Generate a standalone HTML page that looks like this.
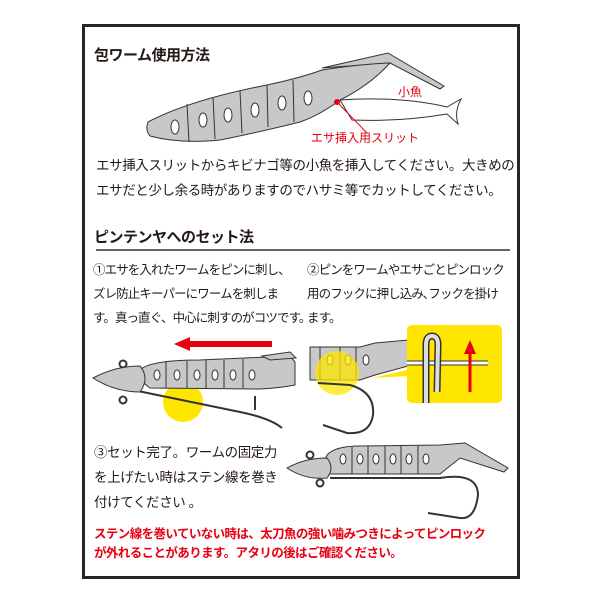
<!DOCTYPE html>
<html><head><meta charset="utf-8"><style>
body{margin:0;background:#fff;width:600px;height:600px;position:relative;overflow:hidden;font-family:"Liberation Sans","Noto Sans CJK JP",sans-serif;color:#231815}
.t{position:absolute;white-space:nowrap}
.h{font-weight:bold;font-size:15px;letter-spacing:-0.5px}
.b{font-size:13.5px;line-height:25px;letter-spacing:-0.4px}
.s{font-size:12.5px;line-height:24px;letter-spacing:-0.9px}
.r{color:#e60012;font-size:12.5px;line-height:19px;letter-spacing:-0.6px;font-weight:bold}
</style></head><body>
<div style="position:absolute;left:82px;top:24px;width:432px;height:549px;border:3px solid #2b2522"></div>
<svg width="600" height="600" style="position:absolute;left:0;top:0">
<!-- top worm: fish behind -->
<path d="M340 100 Q400 96 447 107 L461 99 Q454 112 458 124 L447 114 Q400 122 352 120 Z" fill="#fff" stroke="#333"/>
<path d="M322 68 L388 53 L444 86 L440 89 L390 63 Z" fill="#c8c8c8" stroke="#333"/>
<path d="M148 122 Q190 100 267 85 Q300 78 322 70 Q360 64 390 63 Q370 85 340 100 Q320 115 300 122 Q260 132 220 140 Q180 144 150 136 Q145 130 148 122 Z" fill="#c8c8c8" stroke="#333"/>
<g stroke="#333" fill="none"><line x1="187" y1="104" x2="189" y2="142"/><line x1="213" y1="97" x2="215" y2="139"/><line x1="240" y1="91" x2="242" y2="133"/><line x1="267" y1="85" x2="268" y2="127"/><line x1="293" y1="80" x2="294" y2="122"/></g>
<g fill="#fff" stroke="#333"><ellipse cx="175" cy="127" rx="4" ry="7"/><ellipse cx="203" cy="120" rx="4" ry="7"/><ellipse cx="228" cy="115" rx="4" ry="7"/><ellipse cx="255" cy="110" rx="4" ry="7"/><ellipse cx="282" cy="103" rx="4" ry="7"/><ellipse cx="308" cy="98" rx="4" ry="7"/></g>
<circle cx="337" cy="102" r="3" fill="#e60012"/><line x1="337" y1="102" x2="367" y2="133" stroke="#e60012"/>
<!-- step1 -->
<path d="M272 341 L190 341 L190 337 L174 344 L190 351 L190 347 L272 347 Z" fill="#e60012"/>
<circle cx="183" cy="402" r="20" fill="#ffe600"/>
<circle cx="123" cy="364" r="3.5" fill="none" stroke="#333" stroke-width="2"/>
<circle cx="123" cy="400" r="3.5" fill="none" stroke="#333" stroke-width="2"/>
<path d="M133 390 L240 412 Q270 418 282 428" stroke="#333" fill="none" stroke-width="2"/>
<line x1="255" y1="410" x2="255" y2="396" stroke="#333" stroke-width="2"/>
<path d="M140 370 Q150 360 200 360 L290 356 L295 362 L295 385 Q280 388 260 389 L150 388 Q138 380 140 370 Z" fill="#c8c8c8" stroke="#333"/>
<path d="M262 356 L290 352 L296 358 L270 360 Z" fill="#c8c8c8" stroke="#333"/>
<path d="M93 378 Q115 366 140 366 Q150 378 140 392 Q115 392 93 378 Z" fill="#c8c8c8" stroke="#333"/>
<g stroke="#333"><line x1="166" y1="361" x2="166" y2="388"/><line x1="187" y1="361" x2="187" y2="388"/><line x1="206" y1="360" x2="206" y2="388"/><line x1="224" y1="360" x2="224" y2="388"/><line x1="243" y1="359" x2="243" y2="388"/></g>
<g fill="#fff" stroke="#333"><ellipse cx="157" cy="375" rx="3" ry="5"/><ellipse cx="177" cy="375" rx="3" ry="5"/><ellipse cx="197" cy="375" rx="3" ry="5"/><ellipse cx="215" cy="375" rx="3" ry="5"/><ellipse cx="233" cy="375" rx="3" ry="5"/><ellipse cx="252" cy="375" rx="3" ry="5"/></g>
<!-- step2 -->
<path d="M310 347 L360 347 L375 343 L408 340 L408 366 L375 375 L360 380 L310 380 Z" fill="#c8c8c8" stroke="#333"/>
<g stroke="#333"><line x1="320" y1="347" x2="320" y2="380"/><line x1="340" y1="347" x2="340" y2="380"/><line x1="356" y1="347" x2="356" y2="380"/></g>
<g fill="#fff" stroke="#333"><ellipse cx="330" cy="360" rx="3" ry="5"/><ellipse cx="348" cy="360" rx="3" ry="5"/><ellipse cx="366" cy="360" rx="3" ry="5"/></g>
<circle cx="337" cy="373" r="22" fill="#ffe600" opacity="0.75"/>
<path d="M318 383 L350 385 Q375 392 373 415 Q370 435 347 433 L323 425" stroke="#333" fill="none" stroke-width="2"/>
<path d="M372 378 L407 370 L407 376 Z" fill="#ffe600"/>
<rect x="407" y="325" width="95" height="78" rx="5" fill="#ffe600"/>
<line x1="407" y1="363" x2="488" y2="363" stroke="#333" stroke-width="5"/>
<line x1="407" y1="363" x2="488" y2="363" stroke="#fff" stroke-width="3"/>
<path d="M426 403 L426 345 Q426 336 432 336 Q438 336 438 345 L437 392" stroke="#333" stroke-width="7" fill="none"/>
<path d="M426 403 L426 345 Q426 336 432 336 Q438 336 438 345 L437 392" stroke="#ddd" stroke-width="4" fill="none"/>
<line x1="470" y1="392" x2="470" y2="352" stroke="#e60012" stroke-width="3"/><path d="M464 354 L470 340 L476 354 Z" fill="#e60012"/>
<!-- step3 -->
<path d="M330 478 L440 478 Q478 472 478 495 Q475 520 460 518 L428 513" stroke="#333" fill="none" stroke-width="2"/>
<circle cx="310" cy="455" r="3.5" fill="none" stroke="#333" stroke-width="2"/>
<circle cx="320" cy="483" r="3.5" fill="none" stroke="#333" stroke-width="2"/>
<path d="M327 455 Q335 446 360 446 L440 445 L465 443 L508 468 L504 472 L460 458 L440 474 L330 474 Q322 465 327 455 Z" fill="#c8c8c8" stroke="#333"/>
<path d="M287 468 Q305 458 327 458 Q335 468 327 478 Q305 480 287 468 Z" fill="#c8c8c8" stroke="#333"/>
<g stroke="#333"><line x1="352" y1="447" x2="352" y2="474"/><line x1="368" y1="446" x2="368" y2="474"/><line x1="385" y1="446" x2="385" y2="474"/><line x1="401" y1="446" x2="401" y2="474"/><line x1="418" y1="446" x2="418" y2="474"/></g>
<g fill="#fff" stroke="#333"><ellipse cx="343" cy="459" rx="3" ry="5"/><ellipse cx="360" cy="459" rx="3" ry="5"/><ellipse cx="376" cy="459" rx="3" ry="5"/><ellipse cx="393" cy="459" rx="3" ry="5"/><ellipse cx="409" cy="459" rx="3" ry="5"/><ellipse cx="426" cy="459" rx="3" ry="5"/></g>
<line x1="96" y1="250" x2="510" y2="250" stroke="#333" stroke-width="1.5"/>
</svg>
<div class="t h" style="left:94px;top:44px">包ワーム使用方法</div>
<div class="t" style="left:398px;top:83px;color:#e60012;font-size:12px">小魚</div>
<div class="t" style="left:311px;top:129px;color:#e60012;font-size:12px">エサ挿入用スリット</div>
<div class="t b" style="left:96px;top:153px">エサ挿入スリットからキビナゴ等の小魚を挿入してください。大きめの<br>エサだと少し余る時がありますのでハサミ等でカットしてください。</div>
<div class="t h" style="left:94px;top:226px">ピンテンヤへのセット法</div>
<div class="t s" style="left:93px;top:258px">①エサを入れたワームをピンに刺し、<br>ズレ防止キーパーにワームを刺しま<br>す。真っ直ぐ、中心に刺すのがコツです。</div>
<div class="t s" style="left:307px;top:258px">②ピンをワームやエサごとピンロック<br>用のフックに押し込み､フックを掛け<br>ます。</div>
<div class="t b" style="left:94px;top:440px">③セット完了。ワームの固定力<br>を上げたい時はステン線を巻き<br>付けてください 。</div>
<div class="t r" style="left:94px;top:525px">ステン線を巻いていない時は、太刀魚の強い噛みつきによってピンロック<br>が外れることがあります。アタリの後はご確認ください。</div>
</body></html>
